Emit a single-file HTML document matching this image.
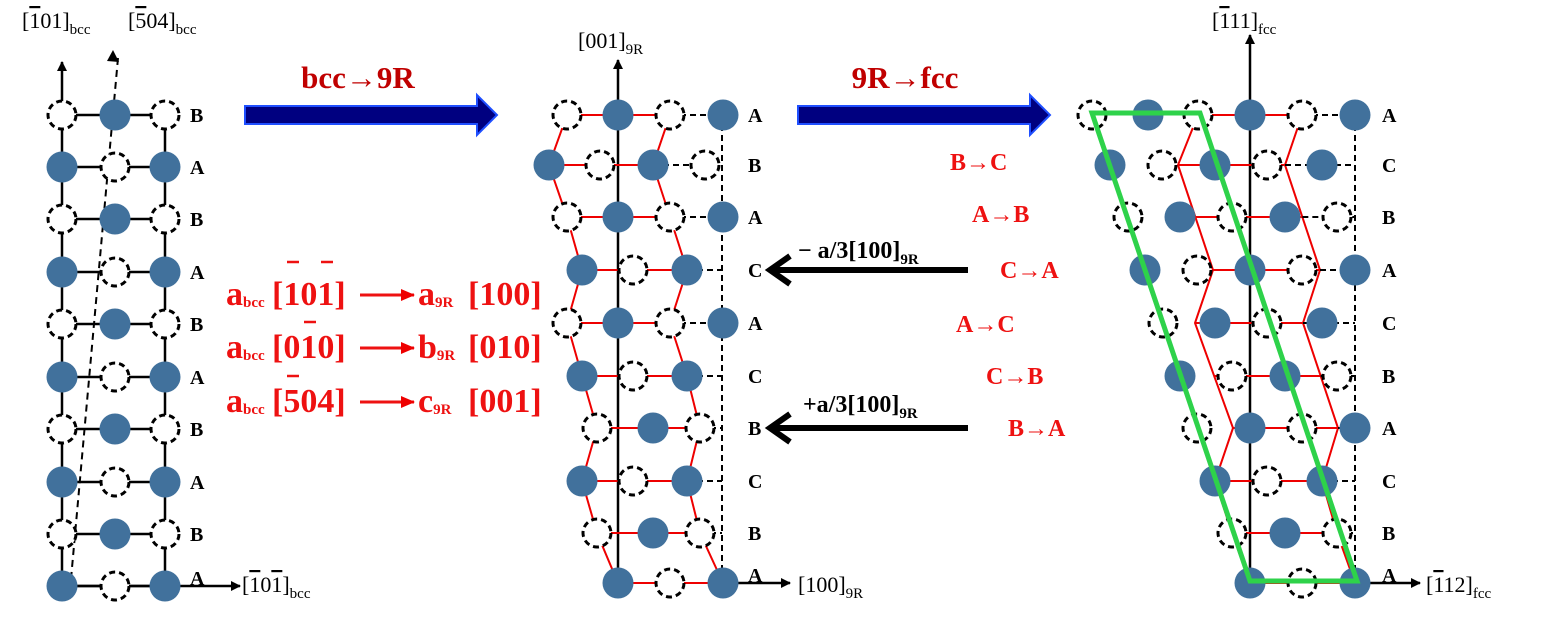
<!DOCTYPE html>
<html><head><meta charset="utf-8"><style>
html,body{margin:0;padding:0;background:#fff;}
svg{display:block;font-family:"Liberation Serif",serif;}
</style></head><body>
<svg id="s" width="1559" height="637" viewBox="0 0 1559 637" xmlns="http://www.w3.org/2000/svg">
<defs>
<marker id="ah" markerWidth="10" markerHeight="10" refX="9" refY="5" orient="auto" markerUnits="userSpaceOnUse"><path d="M0,0 L10,5 L0,10 Z" fill="#000"/></marker>
<marker id="ahr" markerWidth="14" markerHeight="12" refX="13" refY="6" orient="auto" markerUnits="userSpaceOnUse"><path d="M0,0 L14,6 L0,12 Z" fill="#e00"/></marker>
</defs>
<g id="lines"></g>
<g id="atoms"></g>
<g id="txt" font-weight="bold"></g>
</svg>
<script>
const NS="http://www.w3.org/2000/svg";
const L=document.getElementById('lines'),A=document.getElementById('atoms'),T=document.getElementById('txt');
function el(p,tag,at){const e=document.createElementNS(NS,tag);for(const k in at)e.setAttribute(k,at[k]);p.appendChild(e);return e;}
function line(x1,y1,x2,y2,c,w,dash,mk){const a={x1,y1,x2,y2,stroke:c,'stroke-width':w};if(dash)a['stroke-dasharray']=dash;if(mk)a['marker-end']='url(#'+mk+')';el(L,'line',a);}
function F(x,y){el(A,'circle',{cx:x,cy:y,r:15.5,fill:'#41719c'});}
function D(x,y){el(A,'circle',{cx:x,cy:y,r:14,fill:'#fff',stroke:'#000','stroke-width':3,'stroke-dasharray':'6 4'});}
function poly(pts,c,w){el(L,'polyline',{points:pts.map(p=>p.join(',')).join(' '),fill:'none',stroke:c,'stroke-width':w});}
const R=[115,167,219,272,324,377,429,482,534,586];
line(62,586,62,62,'#000',2.5,null,'ah');
line(165,115,165,586,'#000',2.5);
line(118,58,70,590,'#000',2,'7 5');
el(L,'path',{d:'M113,50 L119,62 L107,61 Z',fill:'#000'});
line(62,586,240,586,'#000',2.5,null,'ah');
R.forEach((y,i)=>{line(62,y,165,y,'#000',2.5);
 if(i%2==0){D(62,y);F(115,y);D(165,y);}else{F(62,y);D(115,y);F(165,y);}
});
const MR=[115,165,217,270,323,376,428,481,533,583];
const ML=[567,549,567,582,567,582,597,582,597,618];
const MRc=[670,653,670,687,670,687,700,687,700,723];
line(618,583,618,60,'#000',2.5,null,'ah');
line(722,115,722,583,'#000',2,'6 4');
line(723,583,790,583,'#000',2.5,null,'ah');
poly(ML.map((x,i)=>[x,MR[i]]),'#e00',2);
poly(MRc.map((x,i)=>[x,MR[i]]),'#e00',2);
MR.forEach((y,i)=>{line(ML[i],y,MRc[i],y,'#e00',2);line(MRc[i],y,722,y,'#000',2,'6 4');});
const mtype=['A','B','A','C','A','C','B','C','B','A'];
MR.forEach((y,i)=>{const t=mtype[i];
 if(t=='A'){if(i<9)D(567,y);F(618,y);D(670,y);F(723,y);}
 else if(t=='B'&&i==1){F(549,y);D(600,y);F(653,y);D(705,y);}
 else if(t=='B'){D(597,y);F(653,y);D(700,y);}
 else {F(582,y);D(633,y);F(687,y);}
});
const RL=[[1198,115],[1178,165],[1213,270],[1195,323],[1233,428],[1215,481],[1232,533],[1250,583]];
const RRc=[[1302,115],[1285,165],[1320,270],[1303,323],[1338,428],[1322,481],[1337,533],[1355,583]];
line(1250,583,1250,35,'#000',2.5,null,'ah');
line(1355,115,1355,583,'#000',2,'6 4');
line(1355,583,1420,583,'#000',2.5,null,'ah');
poly(RL,'#e00',2);poly(RRc,'#e00',2);
const rx=(pts,y)=>{for(let i=0;i<pts.length-1;i++){const[a,b]=pts[i],[c,d]=pts[i+1];if(y>=b&&y<=d)return a+(c-a)*(y-b)/(d-b);}return pts[0][0];};
const RR=[115,165,217,270,323,376,428,481,533,583];
RR.forEach((y,i)=>{const l=rx(RL,y),r=rx(RRc,y);line(l,y,r,y,'#e00',2);line(r,y,1355,y,'#000',2,'6 4');});
const rows=[
 [['D',1092],['F',1148],['D',1198],['F',1250],['D',1302],['F',1355]],
 [['F',1110],['D',1162],['F',1215],['D',1267],['F',1322]],
 [['D',1128],['F',1180],['D',1232],['F',1285],['D',1337]],
 [['F',1145],['D',1197],['F',1250],['D',1302],['F',1355]],
 [['D',1163],['F',1215],['D',1267],['F',1322]],
 [['F',1180],['D',1232],['F',1285],['D',1337]],
 [['D',1197],['F',1250],['D',1302],['F',1355]],
 [['F',1215],['D',1267],['F',1322]],
 [['D',1232],['F',1285],['D',1337]],
 [['F',1250],['D',1302],['F',1355]]];
rows.forEach((r,i)=>r.forEach(([t,x])=>t=='F'?F(x,RR[i]):D(x,RR[i])));
el(A,'polygon',{points:'1092,113 1200,113 1357,581 1250,581',fill:'none',stroke:'#2ed24a','stroke-width':5});
function barrow(x1,x2,y){el(A,'path',{d:`M${x1},${y-9} L${x2-20},${y-9} L${x2-20},${y-20} L${x2},${y} L${x2-20},${y+20} L${x2-20},${y+9} L${x1},${y+9} Z`,fill:'#000080',stroke:'#1f4fff','stroke-width':2});}
barrow(245,497,115);barrow(798,1050,115);
line(968,270,772,270,'#000',6);el(A,'path',{d:'M790,256 L770,270 L790,284',fill:'none',stroke:'#000','stroke-width':6});
line(968,428,772,428,'#000',6);el(A,'path',{d:'M790,414 L770,428 L790,442',fill:'none',stroke:'#000','stroke-width':6});
function tx(x,y,s,sz,c,anchor,w){const e=el(T,'text',{x,y,'font-size':sz,fill:c||'#000'});if(anchor)e.setAttribute('text-anchor',anchor);if(w)e.setAttribute('font-weight',w);e.innerHTML=s;return e;}
const lab=(x,arr,ys)=>arr.forEach((s,i)=>tx(x,ys[i]+7,s,20,'#000'));
lab(190,['B','A','B','A','B','A','B','A','B','A'],[115,167,219,272,324,377,429,482,534,578]);
lab(748,['A','B','A','C','A','C','B','C','B','A'],[115,165,217,270,323,376,428,481,533,575]);
lab(1382,['A','C','B','A','C','B','A','C','B','A'],[115,165,217,270,323,376,428,481,533,575]);
const N='normal';
tx(22,28,'[<tspan text-decoration="overline">1</tspan>01]<tspan font-size="15" dy="6">bcc</tspan>',22,'#000',null,N);
tx(128,28,'[<tspan text-decoration="overline">5</tspan>04]<tspan font-size="15" dy="6">bcc</tspan>',22,'#000',null,N);
tx(242,592,'[<tspan text-decoration="overline">1</tspan>0<tspan text-decoration="overline">1</tspan>]<tspan font-size="15" dy="6">bcc</tspan>',22,'#000',null,N);
tx(578,48,'[001]<tspan font-size="15" dy="6">9R</tspan>',22,'#000',null,N);
tx(798,592,'[100]<tspan font-size="15" dy="6">9R</tspan>',22,'#000',null,N);
tx(1212,28,'[<tspan text-decoration="overline">1</tspan>11]<tspan font-size="15" dy="6">fcc</tspan>',22,'#000',null,N);
tx(1426,592,'[<tspan text-decoration="overline">1</tspan>12]<tspan font-size="15" dy="6">fcc</tspan>',22,'#000',null,N);
tx(358,88,'bcc→9R',31,'#c00000','middle');
tx(905,88,'9R→fcc',31,'#c00000','middle');
const RED='#ee1111';
[['B→C',950,170],['A→B',972,222],['C→A',1000,278],['A→C',956,332],['C→B',986,384],['B→A',1008,436]].forEach(([s,x,y])=>tx(x,y,s,24,RED));
tx(798,258,'− a/3[100]<tspan font-size="15" dy="6">9R</tspan>',24,'#000');
tx(803,412,'+a/3[100]<tspan font-size="15" dy="6">9R</tspan>',24,'#000');
function form(y,b,c,d){
 tx(226,y,'a<tspan font-size="15" dy="2">bcc</tspan>',34,RED);
 tx(272,y,b,34,RED);
 line(360,y-10,414,y-10,RED,3,null,'ahr');
 tx(418,y,c,34,RED);
 tx(468,y,d,34,RED);
}
form(305,'[101]','a<tspan font-size="15" dy="2">9R</tspan>','[100]');
form(358,'[010]','b<tspan font-size="15" dy="2">9R</tspan>','[010]');
form(412,'[504]','c<tspan font-size="15" dy="2">9R</tspan>','[001]');
[[287,262],[321,262],[304,322],[287,376]].forEach(([x,y])=>line(x,y,x+12,y,RED,2.5));
</script>
</body></html>
